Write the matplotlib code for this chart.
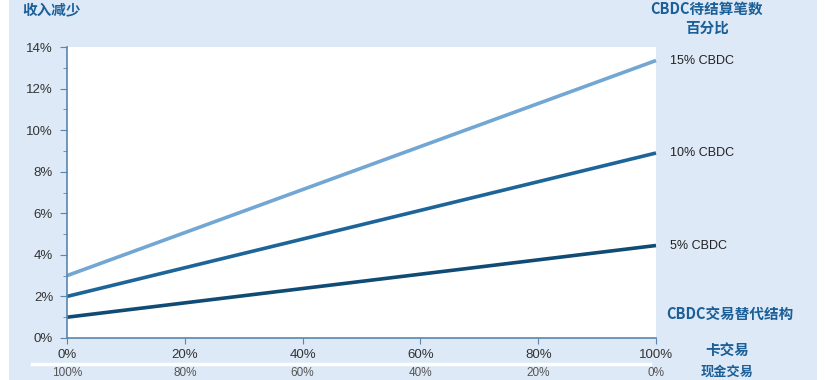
import matplotlib
matplotlib.use("Agg")
import matplotlib.pyplot as plt
from matplotlib.patches import Rectangle
from matplotlib.ticker import MultipleLocator, FuncFormatter

plt.rcParams['font.family'] = ['Liberation Sans', 'Noto Sans CJK SC', 'DejaVu Sans']

# Data
card_share = [0, 100]                     # % of card transactions replaced
series_labels = ['15% CBDC', '10% CBDC', '5% CBDC']
series_values = {
    '15% CBDC': [3.0, 13.35],
    '10% CBDC': [2.0, 8.9],
    '5% CBDC': [1.0, 4.45],
}
series_colors = {'15% CBDC': '#72a6d3', '10% CBDC': '#1d6598', '5% CBDC': '#0f4b74'}
x_ticks = [0, 20, 40, 60, 80, 100]
x_tick_labels = ['0%', '20%', '40%', '60%', '80%', '100%']
bottom_row_labels = ['100%', '80%', '60%', '40%', '20%', '0%']

W, H = 825, 380
fig = plt.figure(figsize=(W / 100, H / 100), dpi=100, facecolor='white')

def fx(px):
    return px / W

def fy(py):
    return 1 - py / H

# light blue panel
fig.patches.append(Rectangle((fx(9), 0), fx(817) - fx(9), 1, transform=fig.transFigure,
                             facecolor='#dde9f6', edgecolor='none', zorder=-5))
# white separator line near bottom
fig.lines.append(plt.Line2D([fx(32), fx(650)], [fy(364), fy(364)], transform=fig.transFigure,
                            color='white', lw=2.5, zorder=-4))

ax = fig.add_axes([fx(67), fy(338), fx(656) - fx(67), fy(47) - fy(338)])
ax.set_zorder(2)
ax.set_facecolor('white')
for name in series_labels:
    ax.plot(card_share, series_values[name], color=series_colors[name], lw=2.6,
            solid_capstyle='butt', clip_on=False)

ax.set_xlim(0, 100)
ax.set_ylim(0, 14)
ax.set_xticks(x_ticks)
ax.set_xticklabels(x_tick_labels)
ax.yaxis.set_major_locator(MultipleLocator(2))
ax.yaxis.set_minor_locator(MultipleLocator(1))
ax.yaxis.set_major_formatter(FuncFormatter(lambda v, p: f'{v:.0f}%'))
for s in ['top', 'right']:
    ax.spines[s].set_visible(False)
spine_color = '#5a86ad'
ax.spines['left'].set_color(spine_color)
ax.spines['bottom'].set_color(spine_color)
ax.spines['left'].set_linewidth(1.2)
ax.spines['bottom'].set_linewidth(1.2)
ax.tick_params(axis='y', which='major', length=5, color=spine_color, labelsize=9.5,
               labelcolor='#333333', pad=5)
ax.tick_params(axis='y', which='minor', length=3, color=spine_color)
ax.tick_params(axis='x', which='major', length=4, color=spine_color, labelsize=9.5,
               labelcolor='#333333', pad=4)

# right series labels
for name in series_labels:
    ax.annotate(name, xy=(100, series_values[name][1]), xytext=(10, 0),
                textcoords='offset points', va='center', ha='left',
                fontsize=9, color='#222222', annotation_clip=False)

title_color = '#1a5f98'
cjk = ['Noto Sans CJK SC', 'DejaVu Sans']
fig.text(fx(22), fy(9), '收入减少', ha='left', va='center', fontsize=10.5,
         fontweight='bold', color=title_color, family=cjk)
fig.text(fx(707), fy(9), 'CBDC待结算笔数', ha='center', va='center', fontsize=10.5,
         fontweight='bold', color=title_color, family=cjk)
fig.text(fx(707), fy(28), '百分比', ha='center', va='center', fontsize=10.5,
         fontweight='bold', color=title_color, family=cjk)
fig.text(fx(730), fy(315), 'CBDC交易替代结构', ha='center', va='center', fontsize=10.5,
         fontweight='bold', color=title_color, family=cjk)
fig.text(fx(727), fy(350), '卡交易', ha='center', va='center', fontsize=10.5,
         fontweight='bold', color=title_color, family=cjk)
fig.text(fx(727), fy(372), '现金交易', ha='center', va='center', fontsize=9.5,
         fontweight='bold', color=title_color, family=cjk)

# bottom row labels
for xv, lab in zip(x_ticks, bottom_row_labels):
    px = 67 + (656 - 67) * xv / 100
    fig.text(fx(px), fy(373), lab, ha='center', va='center', fontsize=8.5, color='#555555')

fig.savefig('out.png', dpi=100, facecolor=fig.get_facecolor())
